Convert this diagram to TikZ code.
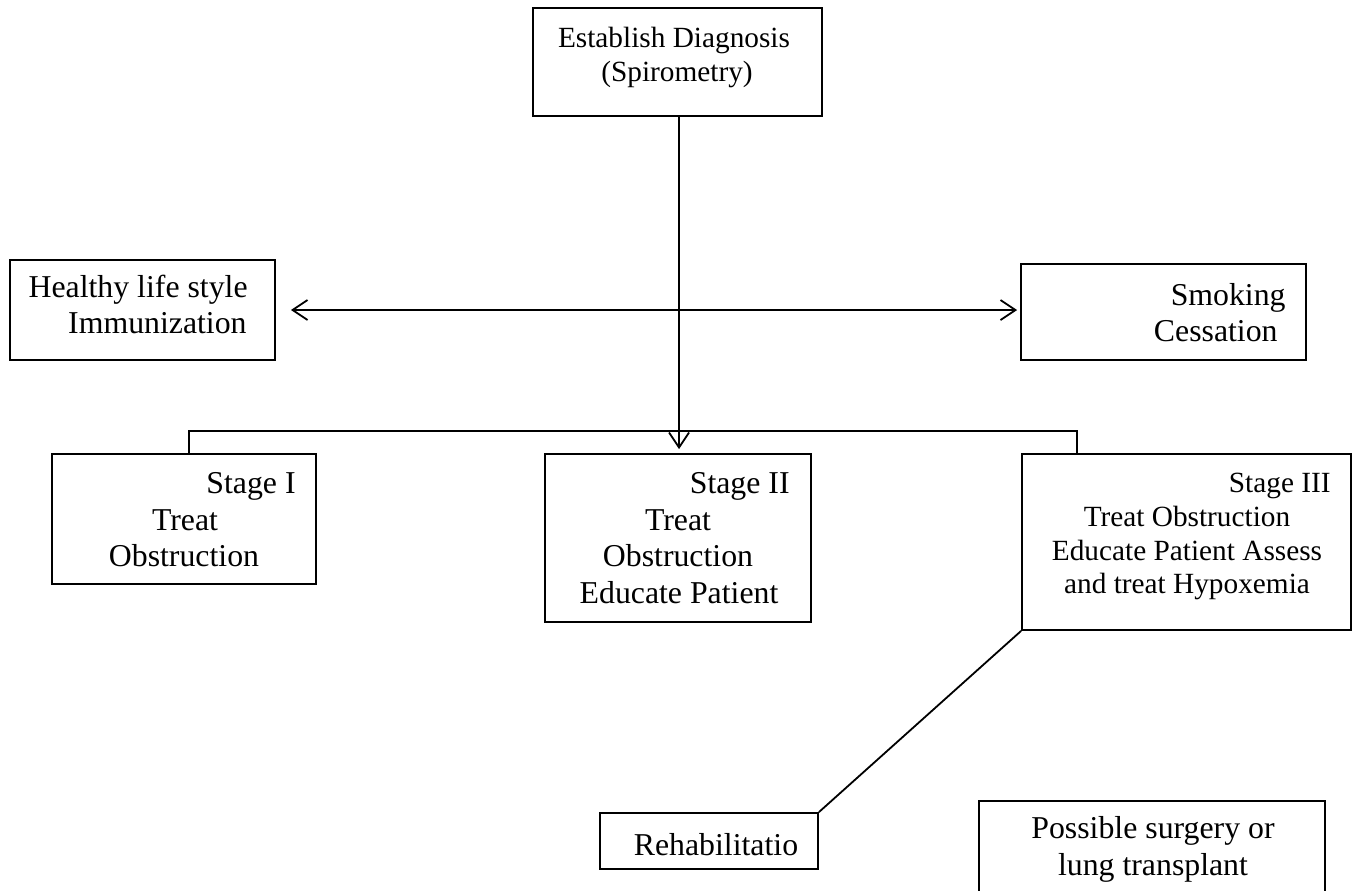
\documentclass[tikz,border=0pt]{standalone}
\usepackage{fontspec}
\setmainfont{Liberation Serif}
\usetikzlibrary{fit,arrows.meta}
\tikzset{
  box/.style={draw, line width=0.9pt, inner sep=0pt},
  txt/.style={inner sep=0pt, font=\fontsize{15.9}{18}\selectfont},
  smalltxt/.style={inner sep=0pt, font=\fontsize{14.65}{17}\selectfont},
  link/.style={line width=0.9pt},
  barb/.tip={Straight Barb[length=7.5pt,width=10pt]},
}
\begin{document}
\begin{tikzpicture}[x=0.5pt,y=-0.5pt]
\useasboundingbox (0,0) rectangle (1352,890);
\clip (0,0) rectangle (1352,890);

%boxes
\node[box, fit={(533,8) (822,116)}] (diag) {};
\node[box, fit={(10,260) (275,360)}] (healthy) {};
\node[box, fit={(1021,264) (1306,360)}] (smoking) {};
\node[box, fit={(52,454) (316,584)}] (stage1) {};
\node[box, fit={(545,454) (811,622)}] (stage2) {};
\node[box, fit={(1022,454) (1351,630)}] (stage3) {};
\node[box, fit={(600,813) (818,869)}] (rehab) {};
\node[box, fit={(979,801) (1325,905)}] (surgery) {};

%connectors
\coordinate (brL) at (189,431);
\coordinate (brR) at (1077,431);
\draw[link, -{barb}, shorten >=2pt] (diag.south -| 679,0) -- (stage2.north -| 679,0);
\draw[link, {barb}-{barb}, shorten <=7.5pt, shorten >=1.5pt] (healthy.east) -- (smoking.west |- healthy.east);
\draw[link] (brL |- stage1.north) -- (brL) -- (brR) -- (brR |- stage3.north);
\draw[link] (stage3.south west) -- (rehab.north east);

%texts
\node[smalltxt, anchor=base] at (674,47) {Establish Diagnosis};
\node[smalltxt, anchor=base] at (677,81) {(Spirometry)};

\node[txt, anchor=base east] at (248,297) {Healthy life style};
\node[txt, anchor=base east] at (247,333) {Immunization};

\node[txt, anchor=base east] at (1286,305) {Smoking};
\node[txt, anchor=base east] at (1278,341) {Cessation};

\node[txt, anchor=base east] at (296,493) {Stage I};
\node[txt, anchor=base] at (185,530) {Treat};
\node[txt, anchor=base] at (184,566) {Obstruction};

\node[txt, anchor=base east] at (790,493) {Stage II};
\node[txt, anchor=base] at (678,530) {Treat};
\node[txt, anchor=base] at (678,566) {Obstruction};
\node[txt, anchor=base] at (679,603) {Educate Patient};

\node[smalltxt, anchor=base east] at (1331,492) {Stage III};
\node[smalltxt, anchor=base] at (1187,526) {Treat Obstruction};
\node[smalltxt, anchor=base] at (1187,560) {Educate Patient Assess};
\node[smalltxt, anchor=base] at (1187,593) {and treat Hypoxemia};

\node[txt, anchor=base] at (716,855) {Rehabilitatio};

\node[txt, anchor=base] at (1153,838) {Possible surgery or};
\node[txt, anchor=base] at (1153,875) {lung transplant};

\end{tikzpicture}
\end{document}
